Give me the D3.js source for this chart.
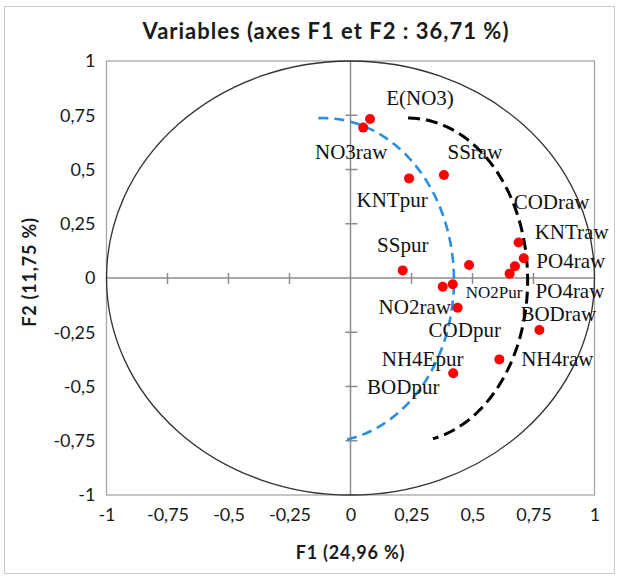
<!DOCTYPE html>
<html>
<head>
<meta charset="utf-8">
<script src="https://cdn.jsdelivr.net/npm/d3@7"></script>
<style>
	body { margin: 0; background: #fff; }
	svg { display: block; }
</style>
</head>
<body>
<div id="chart"></div>
<script>

// Variables (F1, F2 coordinates)
var variables = ["E(NO3)", "NO3raw", "SSraw", "KNTpur", "SSpur", "NO2Pur", "KNTraw", "PO4raw",
	"PO4raw", "CODraw", "NO2raw", "CODpur", "NH4Epur", "BODraw", "NH4raw", "BODpur"];
var f1Values = [0.080, 0.052, 0.383, 0.240, 0.214, 0.486, 0.689, 0.710,
	0.674, 0.652, 0.378, 0.419, 0.439, 0.774, 0.610, 0.421];
var f2Values = [0.733, 0.693, 0.475, 0.459, 0.035, 0.060, 0.164, 0.091,
	0.054, 0.020, -0.040, -0.029, -0.137, -0.240, -0.375, -0.439];
var tickValues = [-1, -0.75, -0.5, -0.25, 0, 0.25, 0.5, 0.75, 1];

var titleText = "Variables (axes F1 et F2 : 36,71 %)";
var xTitle = "F1 (24,96 %)";
var yTitle = "F2 (11,75 %)";

// label placement (pixels from the point), same order as variables
var labelOffsets = [[50, -21], [-12, 24], [31, -23], [-17, 22], [0, -25], [25, 27], [53, -10], [47, 3],
	[55, 25], [42, -72], [-28, 20], [12, 46], [-35, 51], [19, -16], [58, 0], [-50, 14]];

// hand drawn dashed arcs (ellipse in F1/F2 units, angles in degrees)
var arcs = [
	{cx: -0.113, cy: -0.01, rx: 0.537, ry: 0.747, from: -92, to: 81, color: "#2a8ee0", width: 2.6, dash: "10,6"},
	{cx: 0.236, cy: -0.01, rx: 0.49, ry: 0.747, from: -90, to: 78, color: "#000", width: 3, dash: "12,6"}
];

var data = variables.map(function(v, i) {
	return {name: v, x: f1Values[i], y: f2Values[i], off: labelOffsets[i]};
});

var width = 619, height = 577;
var svg = d3.select("#chart").append("svg").attr("width", width).attr("height", height);

var fmt = function(d) { return String(d).replace(".", ","); };
var sans = "Lato, 'Open Sans', sans-serif";

// outer border
svg.append("rect")
	.attr("x", 4.5).attr("y", 6.5)
	.attr("width", 610).attr("height", 567)
	.attr("fill", "none")
	.attr("stroke", "#c8c8c8");

var xScale = d3.scaleLinear().domain([-1, 1]).range([106.5, 594.5]);
var yScale = d3.scaleLinear().domain([-1, 1]).range([495, 61]);

// Title
svg.append("text")
	.attr("x", 326).attr("y", 39)
	.attr("text-anchor", "middle")
	.style("font-family", sans)
	.style("font-weight", "bold")
	.style("font-size", "22px")
	.style("letter-spacing", "1px")
	.attr("fill", "#1a1a1a")
	.text(titleText);

// Plot box
svg.append("rect")
	.attr("x", xScale(-1)).attr("y", yScale(1))
	.attr("width", xScale(1) - xScale(-1))
	.attr("height", yScale(-1) - yScale(1))
	.attr("fill", "none")
	.attr("stroke", "#a6a6a6")
	.attr("stroke-width", 1.3);

// Axes (labels only)
var xAxis = d3.axisBottom(xScale).tickValues(tickValues).tickSize(0).tickPadding(13).tickFormat(fmt);
var yAxis = d3.axisLeft(yScale).tickValues(tickValues).tickSize(0).tickPadding(11).tickFormat(fmt);

var gx = svg.append("g")
	.attr("class", "x axis")
	.attr("transform", "translate(0," + yScale(-1) + ")")
	.call(xAxis);
var gy = svg.append("g")
	.attr("class", "y axis")
	.attr("transform", "translate(" + xScale(-1) + ",0)")
	.call(yAxis);

[gx, gy].forEach(function(g) {
	g.select(".domain").remove();
	g.selectAll("text")
		.style("font-family", sans)
		.style("font-size", "18px")
		.attr("fill", "#1a1a1a");
});

// Axis titles
svg.append("text")
	.attr("x", xScale(0)).attr("y", 559)
	.attr("text-anchor", "middle")
	.style("font-family", sans)
	.style("font-weight", "bold")
	.style("font-size", "18px")
	.style("letter-spacing", "0.8px")
	.attr("fill", "#1a1a1a")
	.text(xTitle);

svg.append("text")
	.attr("transform", "translate(36,272) rotate(-90)")
	.attr("text-anchor", "middle")
	.style("font-family", sans)
	.style("font-weight", "bold")
	.style("font-size", "18px")
	.style("letter-spacing", "0.8px")
	.attr("fill", "#1a1a1a")
	.text(yTitle);

// Zero lines with cross ticks
var inner = svg.append("g").attr("stroke", "#8c8c8c").attr("stroke-width", 1.5);
inner.append("line")
	.attr("x1", xScale(-1)).attr("x2", xScale(1))
	.attr("y1", yScale(0)).attr("y2", yScale(0));
inner.append("line")
	.attr("x1", xScale(0)).attr("x2", xScale(0))
	.attr("y1", yScale(1)).attr("y2", yScale(-1));

var innerTicks = tickValues.filter(function(d) { return Math.abs(d) < 1 && d !== 0; });
inner.selectAll("line.xtick")
	.data(innerTicks)
	.enter().append("line")
	.attr("class", "xtick")
	.attr("x1", function(d) { return xScale(d); })
	.attr("x2", function(d) { return xScale(d); })
	.attr("y1", yScale(0) - 5)
	.attr("y2", yScale(0) + 6);
inner.selectAll("line.ytick")
	.data(innerTicks)
	.enter().append("line")
	.attr("class", "ytick")
	.attr("x1", xScale(0) - 5)
	.attr("x2", xScale(0) + 7)
	.attr("y1", function(d) { return yScale(d); })
	.attr("y2", function(d) { return yScale(d); });

// Correlation circle
svg.append("ellipse")
	.attr("cx", xScale(0)).attr("cy", yScale(0))
	.attr("rx", xScale(1) - xScale(0))
	.attr("ry", yScale(0) - yScale(1))
	.attr("fill", "none")
	.attr("stroke", "#333")
	.attr("stroke-width", 1.3);

// Dashed arcs
var arcLine = d3.line()
	.x(function(d) { return xScale(d[0]); })
	.y(function(d) { return yScale(d[1]); });

arcs.forEach(function(a) {
	var pts = d3.range(a.from, a.to + 0.5, 1).map(function(deg) {
		var t = deg * Math.PI / 180;
		return [a.cx + a.rx * Math.cos(t), a.cy - a.ry * Math.sin(t)];
	});
	svg.append("path")
		.attr("d", arcLine(pts))
		.attr("fill", "none")
		.attr("stroke", a.color)
		.attr("stroke-width", a.width)
		.attr("stroke-dasharray", a.dash);
});

// Points
svg.selectAll("circle.point")
	.data(data)
	.enter().append("circle")
	.attr("class", "point")
	.attr("cx", function(d) { return xScale(d.x); })
	.attr("cy", function(d) { return yScale(d.y); })
	.attr("r", 5)
	.attr("fill", "#ff0000");

// Labels
svg.selectAll("text.label")
	.data(data)
	.enter().append("text")
	.attr("class", "label")
	.attr("x", function(d) { return xScale(d.x) + d.off[0]; })
	.attr("y", function(d) { return yScale(d.y) + d.off[1]; })
	.attr("dy", "0.33em")
	.attr("text-anchor", "middle")
	.style("font-family", "'Liberation Serif', 'Times New Roman', serif")
	.style("font-size", function(d) { return d.name === "NO2Pur" ? "17px" : "21px"; })
	.attr("fill", "#111")
	.text(function(d) { return d.name; });

</script>
</body>
</html>
